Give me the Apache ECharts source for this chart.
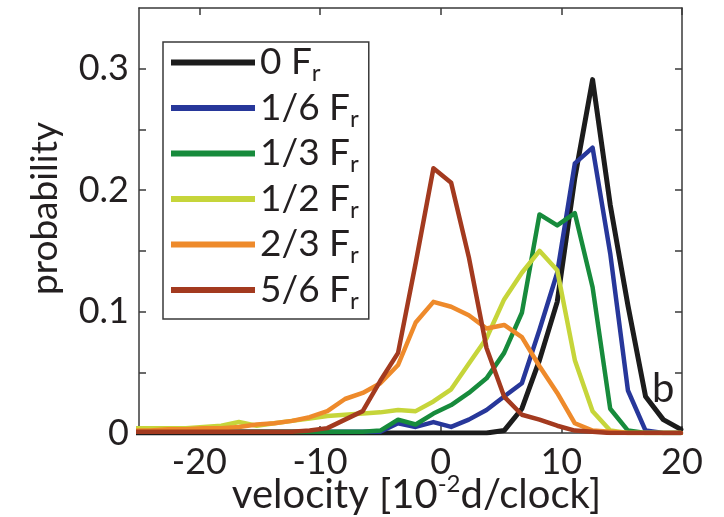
<!DOCTYPE html>
<html>
<head>
<meta charset="utf-8">
<script src="https://cdn.jsdelivr.net/npm/echarts@6/dist/echarts.min.js"></script>
<style>
  html, body { margin: 0; padding: 0; background: #ffffff; }
  #chart { width: 724px; height: 517px; }
</style>
</head>
<body>
<div id="chart"></div>
<script>
// ---- data ----
const velocity = [-25.5, -24.04, -22.58, -21.11, -19.65, -18.18, -16.72, -15.25, -13.79, -12.32,
  -10.86, -9.39, -7.93, -6.46, -5.0, -3.53, -2.07, -0.6, 0.87, 2.33,
  3.8, 5.26, 6.73, 8.19, 9.66, 11.12, 12.59, 14.05, 15.52, 16.98, 18.45, 19.91];

const seriesNames = ['0 Fr', '1/6 Fr', '1/3 Fr', '1/2 Fr', '2/3 Fr', '5/6 Fr'];

const p0 = [0, 0, 0, 0, 0, 0, 0, 0, 0, 0,
  0, 0, 0, 0, 0, 0, 0, 0, 0, 0,
  0, 0.002, 0.02, 0.06, 0.108, 0.21, 0.291, 0.188, 0.105, 0.03, 0.011, 0.003];

const p16 = [0.001, 0.001, 0.001, 0.001, 0.001, 0.001, 0.001, 0.001, 0.001, 0.001,
  0.001, 0.001, 0.001, 0.001, 0.001, 0.008, 0.005, 0.009, 0.005, 0.011,
  0.019, 0.03, 0.041, 0.085, 0.132, 0.222, 0.235, 0.148, 0.035, 0.002, 0, 0];

const p13 = [0.001, 0.001, 0.001, 0.001, 0.001, 0.001, 0.001, 0.001, 0.001, 0.001,
  0.001, 0.001, 0.001, 0.001, 0.002, 0.011, 0.007, 0.016, 0.023, 0.033,
  0.045, 0.066, 0.099, 0.18, 0.171, 0.181, 0.12, 0.02, 0.002, 0, 0, 0];

const p12 = [0.004, 0.004, 0.004, 0.004, 0.005, 0.006, 0.009, 0.006, 0.008, 0.010,
  0.012, 0.014, 0.015, 0.016, 0.017, 0.019, 0.018, 0.026, 0.036, 0.057,
  0.078, 0.11, 0.132, 0.150, 0.134, 0.06, 0.018, 0.002, 0, 0, 0, 0];

const p23 = [0.002, 0.002, 0.003, 0.003, 0.004, 0.004, 0.005, 0.007, 0.008, 0.010,
  0.013, 0.018, 0.028, 0.033, 0.041, 0.056, 0.091, 0.108, 0.104, 0.097,
  0.086, 0.089, 0.079, 0.055, 0.033, 0.008, 0.002, 0.001, 0, 0, 0, 0];

const p56 = [0.001, 0.001, 0.001, 0.001, 0.001, 0.001, 0.001, 0.001, 0.001, 0.001,
  0.002, 0.004, 0.011, 0.018, 0.043, 0.066, 0.14, 0.218, 0.206, 0.145,
  0.07, 0.03, 0.015, 0.011, 0.006, 0.002, 0.001, 0, 0, 0, 0, 0];

const xTickValues = [-20, -10, 0, 10, 20];
const yTickValues = [0, 0.05, 0.1, 0.15, 0.2, 0.25, 0.3];
const yLabelValues = [0, 0.1, 0.2, 0.3];

// ---- styling ----
const colors = ['#1c1c1c', '#27379a', '#178b3c', '#c6d53a', '#ee8a2b', '#a33a1f'];
const FONT = 'Lato';
const TXT = '#231f20';
const allData = [p0, p16, p13, p12, p23, p56];

const chart = echarts.init(document.getElementById('chart'), null, { renderer: 'canvas' });

const axisLineStyle = { color: '#3a3a3a', width: 1.5 };

const option = {
  backgroundColor: '#ffffff',
  animation: false,
  color: colors,
  grid: { left: 139, right: 42, top: 8, bottom: 84, containLabel: false, outerBoundsMode: 'none' },
  legend: {
    orient: 'vertical',
    left: 163,
    top: 42,
    icon: 'rect',
    itemWidth: 84,
    itemHeight: 6,
    itemGap: 4,
    padding: [2, 10, 6, 8],
    borderColor: '#3a3a3a',
    borderWidth: 1.5,
    backgroundColor: '#ffffff',
    data: seriesNames,
    formatter: function (name) {
      return '{a|' + name.slice(0, -1) + '}{s|r}';
    },
    textStyle: {
      fontFamily: FONT,
      color: TXT,
      rich: {
        a: { fontFamily: FONT, fontSize: 37, color: TXT, lineHeight: 46 },
        s: { fontFamily: FONT, fontSize: 24, color: TXT, lineHeight: 4, verticalAlign: 'bottom' }
      }
    }
  },
  xAxis: [
    {
      type: 'value', position: 'bottom', min: -25, max: 20,
      axisLine: { show: true, onZero: false, lineStyle: axisLineStyle },
      axisTick: { show: true, inside: true, length: 7, customValues: xTickValues, lineStyle: axisLineStyle },
      axisLabel: { customValues: xTickValues, fontFamily: FONT, fontSize: 36, color: TXT, margin: 11 },
      splitLine: { show: false },
      name: '{a|velocity [10}{sup|-2}{a|d/clock]}',
      nameLocation: 'middle',
      nameGap: 39,
      nameMoveOverlap: false,
      nameTextStyle: {
        padding: [0, 0, 0, 12],
        rich: {
          a: { fontFamily: FONT, fontSize: 40, color: TXT, lineHeight: 46 },
          sup: { fontFamily: FONT, fontSize: 24, color: TXT, lineHeight: 16, verticalAlign: 'top' }
        }
      }
    },
    {
      type: 'value', position: 'top', min: -25, max: 20,
      axisLine: { show: true, onZero: false, lineStyle: axisLineStyle },
      axisTick: { show: true, inside: true, length: 7, customValues: xTickValues, lineStyle: axisLineStyle },
      axisLabel: { show: false },
      splitLine: { show: false }
    }
  ],
  yAxis: [
    {
      type: 'value', position: 'left', min: 0, max: 0.35,
      axisLine: { show: true, onZero: false, lineStyle: axisLineStyle },
      axisTick: { show: true, inside: true, length: 7, customValues: yTickValues, lineStyle: axisLineStyle },
      axisLabel: {
        customValues: yLabelValues, fontFamily: FONT, fontSize: 36, color: TXT, margin: 10,
        formatter: function (v) { return v === 0 ? '0' : String(+v.toFixed(2)); }
      },
      splitLine: { show: false },
      name: 'probability',
      nameLocation: 'middle',
      nameGap: 75,
      nameMoveOverlap: false,
      nameTextStyle: { fontFamily: FONT, fontSize: 37, color: TXT, padding: [0, 0, 0, 24] }
    },
    {
      type: 'value', position: 'right', min: 0, max: 0.35,
      axisLine: { show: true, onZero: false, lineStyle: axisLineStyle },
      axisTick: { show: true, inside: true, length: 7, customValues: yTickValues, lineStyle: axisLineStyle },
      axisLabel: { show: false },
      splitLine: { show: false }
    }
  ],
  graphic: [
    {
      type: 'text', left: 652, top: 369, z: 10,
      style: { text: 'b', fontFamily: FONT, fontSize: 40, fill: TXT }
    }
  ],
  series: seriesNames.map(function (name, i) {
    return {
      name: name,
      type: 'line',
      xAxisIndex: 0,
      yAxisIndex: 0,
      showSymbol: false,
      symbol: 'none',
      clip: true,
      lineStyle: { width: i === 0 ? 5 : 4.5, color: colors[i], join: 'round', cap: 'round' },
      itemStyle: { color: colors[i] },
      data: velocity.map(function (v, j) { return [v, allData[i][j]]; })
    };
  })
};

chart.setOption(option);
</script>
</body>
</html>
